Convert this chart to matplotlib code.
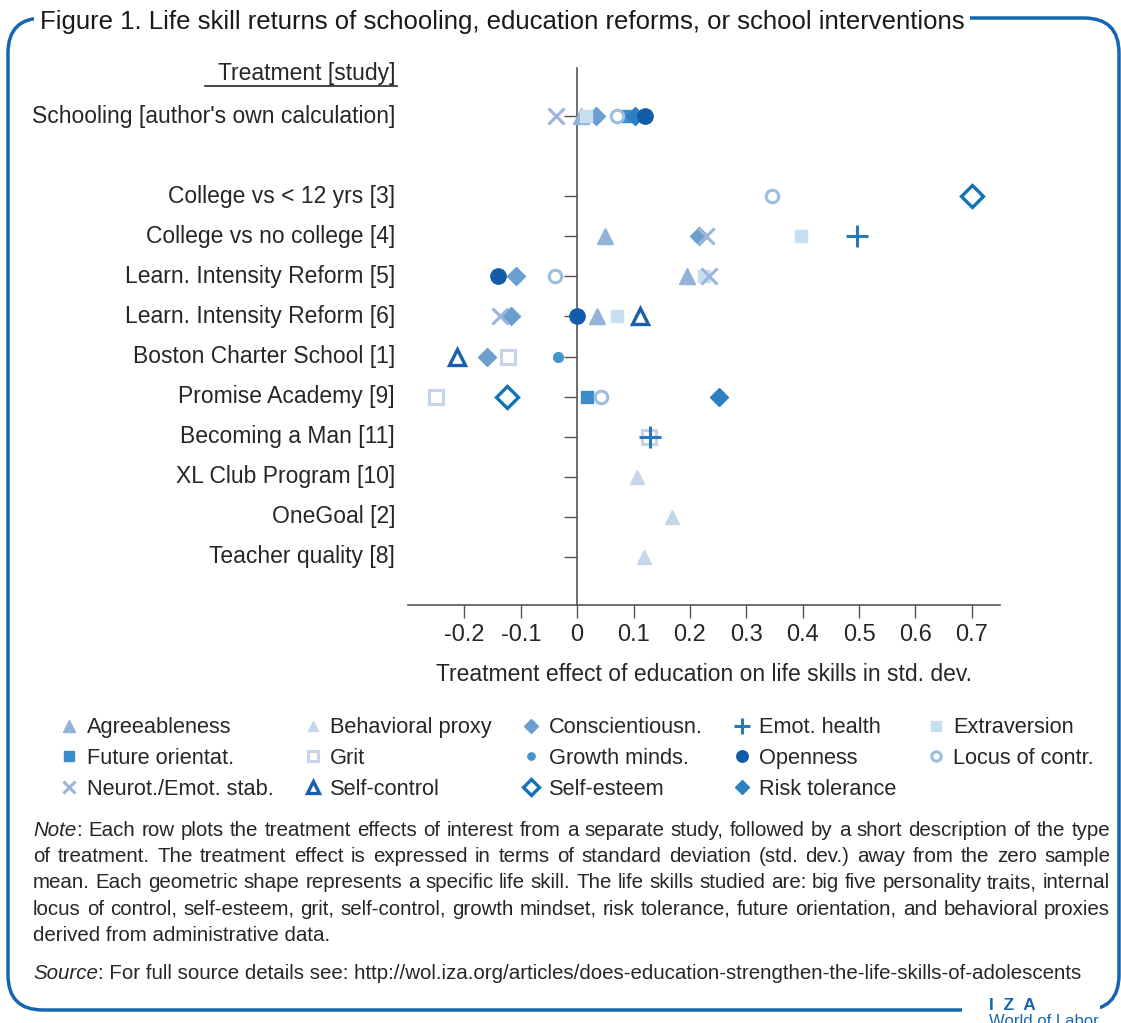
import matplotlib
matplotlib.use("Agg")
import matplotlib.pyplot as plt
from matplotlib.lines import Line2D
from matplotlib.patches import FancyBboxPatch, Rectangle
import numpy as np

plt.rcParams['font.family'] = ['Liberation Sans', 'DejaVu Sans']
TXT = '#262626'

# studies, top to bottom; row position on the y axis
studies = ["Schooling [author's own calculation]", "College vs < 12 yrs [3]",
           "College vs no college [4]", "Learn. Intensity Reform [5]",
           "Learn. Intensity Reform [6]", "Boston Charter School [1]",
           "Promise Academy [9]", "Becoming a Man [11]", "XL Club Program [10]",
           "OneGoal [2]", "Teacher quality [8]"]
rows = [12, 10, 9, 8, 7, 6, 5, 4, 3, 2, 1]

# treatment effects (std. dev.) per life skill, aligned with studies (None = not studied)
agreeableness    = [0.006, None, 0.05, 0.195, 0.035, None, None, None, None, None, None]
behavioral_proxy = [None, None, None, None, None, None, None, None, 0.107, 0.168, 0.118]
conscientiousn   = [0.034, None, 0.216, -0.108, -0.117, -0.16, None, None, None, None, None]
emot_health      = [None, None, 0.497, None, None, None, None, 0.13, None, None, None]
extraversion     = [0.016, None, 0.397, 0.225, 0.071, None, None, None, None, None, None]
future_orientat  = [0.09, None, None, None, None, None, 0.018, None, None, None, None]
grit             = [None, None, None, None, None, -0.122, -0.25, 0.128, None, None, None]
growth_minds     = [None, None, None, None, None, -0.034, None, None, None, None, None]
openness         = [0.12, None, None, -0.14, 0.0, None, None, None, None, None, None]
locus_contr      = [0.07, 0.346, None, -0.039, None, None, 0.043, None, None, None, None]
neurot_emot      = [-0.037, None, 0.229, 0.234, -0.137, None, None, None, None, None, None]
self_control     = [None, None, None, None, 0.112, -0.213, None, None, None, None, None]
self_esteem      = [None, 0.70, None, None, None, None, -0.124, None, None, None, None]
risk_tolerance   = [0.103, None, None, None, None, None, 0.252, None, None, None, None]

skills = ["Agreeableness", "Behavioral proxy", "Conscientiousn.", "Emot. health", "Extraversion",
          "Future orientat.", "Grit", "Growth minds.", "Openness", "Locus of contr.",
          "Neurot./Emot. stab.", "Self-control", "Self-esteem", "Risk tolerance"]
values = [agreeableness, behavioral_proxy, conscientiousn, emot_health, extraversion,
          future_orientat, grit, growth_minds, openness, locus_contr,
          neurot_emot, self_control, self_esteem, risk_tolerance]

# marker, colour, size, filled, edge width, zorder
styles = [
    ('^', '#92b2da', 12, True, 1, 3),
    ('^', '#c5d5ea', 10, True, 1, 3),
    ('D', '#6a9fd0', 9, True, 1, 3),
    ('+', '#2878bd', 16, True, 2.2, 5),
    ('s', '#c6dff1', 9, True, 1, 3),
    ('s', '#3d8dcb', 9, True, 1, 3),
    ('s', '#c6d4ea', 10, False, 2.2, 3),
    ('o', '#4393cc', 7, True, 1, 3),
    ('o', '#115da9', 11, True, 1, 4),
    ('o', '#9bbde0', 9, False, 2.2, 3),
    ('x', '#9db5da', 11, True, 2.2, 3),
    ('^', '#1b5fa8', 11, False, 2.4, 3),
    ('D', '#1172b9', 11, False, 2.4, 3),
    ('D', '#2a80c2', 9, True, 1, 3),
]

W, H = 1121, 1023
fig = plt.figure(figsize=(W / 100, H / 100), dpi=100)
ax = fig.add_axes([0.364, 0.4086, 0.528, 0.525])

handles = []
for name, vals, (m, c, ms, filled, mew, z) in zip(skills, values, styles):
    xs = [v for v in vals if v is not None]
    ys = [r for v, r in zip(vals, rows) if v is not None]
    kw = dict(marker=m, markersize=ms, markeredgewidth=mew, linestyle='none')
    if filled:
        kw.update(color=c)
    else:
        kw.update(markerfacecolor='white', markeredgecolor=c, color=c)
    ax.plot(xs, ys, zorder=z, **kw)
    handles.append(Line2D([], [], label=name, **kw))

ax.set_xlim(-0.30, 0.75)
ax.set_ylim(-0.2, 13.2)
for s in ['top', 'right']:
    ax.spines[s].set_visible(False)
ax.spines['left'].set_position(('data', 0))
ax.spines['left'].set_color('#555555')
ax.spines['bottom'].set_color('#555555')
ax.spines['left'].set_linewidth(1.2)
ax.spines['bottom'].set_linewidth(1.2)

ax.set_xticks(np.arange(-0.2, 0.71, 0.1))
ax.set_xticklabels(['-0.2', '-0.1', '0', '0.1', '0.2', '0.3', '0.4', '0.5', '0.6', '0.7'],
                   fontsize=17, color=TXT)
ax.tick_params(axis='x', direction='out', length=9, width=1, color='#555555', pad=5)
ax.set_yticks(rows)
ax.set_yticklabels([])
ax.tick_params(axis='y', direction='out', length=9.5, width=1, color='#555555')
ax.set_xlabel('Treatment effect of education on life skills in std. dev.', fontsize=16.5,
              color=TXT, labelpad=12)

tr = matplotlib.transforms.blended_transform_factory(ax.transAxes, ax.transData)
for name, r in zip(studies, rows):
    ax.text(-0.022, r, name, transform=tr, ha='right', va='center', fontsize=16.5, color=TXT)
ax.text(-0.022, 13.05, 'Treatment [study]', transform=tr, ha='right', va='center',
        fontsize=16.5, color=TXT)
ax.plot([-0.343, -0.019], [12.74, 12.74], transform=tr, color=TXT, lw=1.2, clip_on=False)

# legend, filled row by row
order = [0, 5, 10, 1, 6, 11, 2, 7, 12, 3, 8, 13, 4, 9]
fig.legend([handles[i] for i in order], [skills[i] for i in order], ncol=5,
           loc='upper left', bbox_to_anchor=(0.0366, 0.318), frameon=False,
           fontsize=15.7, handlelength=0.8, handletextpad=0.4, columnspacing=1.4,
           labelspacing=0.45, markerscale=0.75, labelcolor=TXT)

# note and source
r = fig.canvas.get_renderer()
fs_note = 14.8


def justified(x_left, x_right, y, text):
    words = text.split(' ')
    arts = [fig.text(0, y, w, fontsize=fs_note, color=TXT, va='baseline') for w in words]
    widths = [a.get_window_extent(r).width for a in arts]
    gap = (x_right - x_left - sum(widths)) / (len(words) - 1)
    x = x_left
    for a, w in zip(arts, widths):
        a.set_x(x / W)
        x += w + gap


note_lines = [
    ": Each row plots the treatment effects of interest from a separate study, followed by a short description of the type",
    "of treatment. The treatment effect is expressed in terms of standard deviation (std. dev.) away from the zero sample",
    "mean. Each geometric shape represents a specific life skill. The life skills studied are: big five personality traits, internal",
    "locus of control, self-esteem, grit, self-control, growth mindset, risk tolerance, future orientation, and behavioral proxies",
    "derived from administrative data.",
]
x0 = 33
t = fig.text(x0 / W, 1 - 836 / H, 'Note', style='italic', fontsize=fs_note, color=TXT, va='baseline')
bb = t.get_window_extent(r)
for i, line in enumerate(note_lines):
    y = 1 - (836 + i * 26.2) / H
    xs = bb.x1 if i == 0 else x0
    if i < len(note_lines) - 1:
        justified(xs, 1110, y, line)
    else:
        fig.text(xs / W, y, line, fontsize=fs_note, color=TXT, va='baseline')
t = fig.text(x0 / W, 1 - 979 / H, 'Source', style='italic', fontsize=fs_note, color=TXT, va='baseline')
bb = t.get_window_extent(r)
fig.text(bb.x1 / W, 1 - 979 / H,
         ': For full source details see: http://wol.iza.org/articles/does-education-strengthen-the-life-skills-of-adolescents',
         fontsize=fs_note, color=TXT, va='baseline')

# frame
BLUE = '#1565b0'
frame = FancyBboxPatch((0.08, 0.13), 11.11, 9.92, boxstyle='round,pad=0,rounding_size=0.35',
                       transform=fig.dpi_scale_trans, fill=False, ec=BLUE, lw=2.5, zorder=1)
fig.add_artist(frame)
fig.add_artist(Rectangle((962 / W, 0), 138 / W, 30 / H, transform=fig.transFigure,
                         fc='white', ec='none', zorder=2))
fig.text(40 / W, 1 - 22 / H,
         'Figure 1. Life skill returns of schooling, education reforms, or school interventions',
         fontsize=18.5, color='#1a1a1a', va='center', ha='left', zorder=3,
         bbox=dict(fc='white', ec='none', pad=4))
fig.text(989 / W, 1 - 1005 / H, 'I  Z  A', fontsize=12.5, color=BLUE, weight='bold',
         va='center', zorder=3)
fig.text(989 / W, 1 - 1014 / H, 'World of Labor', fontsize=12, color=BLUE,
         va='top', zorder=3)

fig.savefig('out.png', dpi=100)
